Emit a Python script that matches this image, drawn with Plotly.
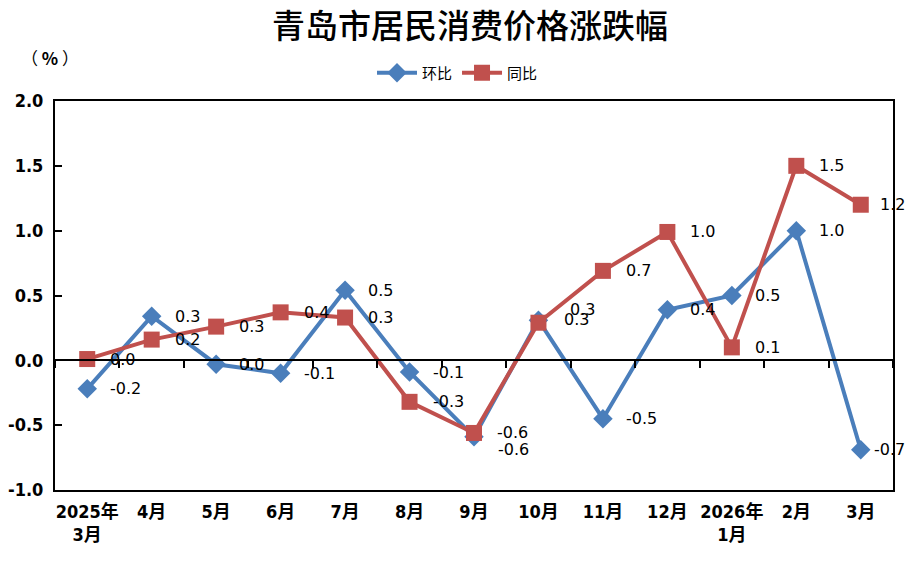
import plotly.graph_objects as go

categories = ["2025年<br>3月", "4月", "5月", "6月", "7月", "8月", "9月",
              "10月", "11月", "12月", "2026年<br>1月", "2月", "3月"]
mom = [-0.22, 0.34, -0.03, -0.10, 0.54, -0.09, -0.59, 0.31, -0.45, 0.39, 0.50, 1.00, -0.69]
yoy = [0.01, 0.16, 0.26, 0.37, 0.33, -0.32, -0.56, 0.29, 0.69, 0.99, 0.10, 1.50, 1.20]
y_ticks = [-1.0, -0.5, 0.0, 0.5, 1.0, 1.5, 2.0]

title_text = "青岛市居民消费价格涨跌幅"
unit_text = "（&nbsp;<b>%</b>&nbsp;）"
name_mom = "环比"
name_yoy = "同比"

BLUE = "#4A7EBB"
RED = "#C0504D"
LABEL_FONT = dict(family="DejaVu Sans, Noto Sans CJK SC", size=16, color="#000000")
TICK_FONT = dict(family="DejaVu Sans Condensed, Noto Sans CJK SC", size=18, color="#000000", weight="bold")

def fmt(v):
    s = f"{v:.1f}"
    return "0.0" if s == "-0.0" else s

fig = go.Figure()
fig.add_trace(go.Scatter(
    x=categories, y=mom, name=name_mom, mode="lines+markers",
    line=dict(color=BLUE, width=4),
    marker=dict(symbol="diamond", size=15, color=BLUE),
))
fig.add_trace(go.Scatter(
    x=categories, y=yoy, name=name_yoy, mode="lines+markers",
    line=dict(color=RED, width=4),
    marker=dict(symbol="square", size=16, color=RED),
))
# invisible trace to carry the bottom category axis (labels + box)
fig.add_trace(go.Scatter(
    x=categories, y=yoy, xaxis="x2", yaxis="y", mode="markers",
    marker=dict(opacity=0), showlegend=False, hoverinfo="skip",
))

# data label offsets (style only)
shift_mom = {6: (22, -13), 7: (30, 11), 12: (11, 0)}
shift_yoy = {7: (24, 3), 12: (17, 0)}

annotations = []
for series, shifts in ((mom, shift_mom), (yoy, shift_yoy)):
    for i, (c, v) in enumerate(zip(categories, series)):
        xs, ys = shifts.get(i, (21, 0))
        annotations.append(dict(
            x=c, y=v, xref="x", yref="y", text=fmt(v), showarrow=False,
            xanchor="left", yanchor="middle", xshift=xs, yshift=ys,
            font=LABEL_FONT,
        ))

W, H = 915, 577
ML, MR, MT, MB = 55, 22, 101, 87
pw, ph = W - ML - MR, H - MT - MB

annotations.append(dict(
    x=(50 - ML) / pw, y=1 + (MT - 57) / ph, xref="paper", yref="paper",
    text=unit_text, showarrow=False, xanchor="center", yanchor="middle",
    font=dict(family="Noto Sans CJK SC", size=17, color="#000000"),
))

fig.update_layout(
    width=W, height=H,
    margin=dict(l=ML, r=MR, t=MT, b=MB, autoexpand=False),
    paper_bgcolor="white", plot_bgcolor="white",
    title=dict(text=title_text, x=470 / W, xanchor="center", y=1 - 26 / H, yanchor="middle",
               font=dict(family="Noto Sans CJK SC", size=33, color="#000000", weight=500)),
    showlegend=True,
    legend=dict(orientation="h", x=0.5, xanchor="center", xref="container",
                y=1 - 73 / H, yanchor="middle", yref="container",
                font=dict(family="Noto Sans CJK SC", size=15, color="#000000"),
                itemwidth=40, tracegroupgap=0, bgcolor="rgba(0,0,0,0)"),
    xaxis=dict(type="category", categoryorder="array", categoryarray=categories,
               range=[-0.5, len(categories) - 0.5],
               anchor="free", position=1 / 3, showline=True, linecolor="#000000", linewidth=2,
               ticks="outside", tickson="boundaries", ticklen=7, tickwidth=1.5, tickcolor="#000000",
               showticklabels=False, showgrid=False, zeroline=False),
    xaxis2=dict(type="category", categoryorder="array", categoryarray=categories,
                range=[-0.5, len(categories) - 0.5], overlaying="x", anchor="y", side="bottom",
                showline=True, mirror=True, linecolor="#000000", linewidth=2,
                ticks="", showgrid=False, zeroline=False, tickfont=TICK_FONT, ticklabelstandoff=4),
    yaxis=dict(range=[-1, 2], tickmode="array", tickvals=y_ticks, ticktext=[fmt(t) for t in y_ticks],
               showline=True, mirror=True,
               linecolor="#000000", linewidth=2, ticks="inside", ticklen=7, tickwidth=1.5,
               tickcolor="#000000", showgrid=False, zeroline=False, tickfont=TICK_FONT,
               ticklabelstandoff=6),
    annotations=annotations,
)

fig.write_html("out.html", config={"displayModeBar": False},
               post_script="document.body.style.margin='0px';")
